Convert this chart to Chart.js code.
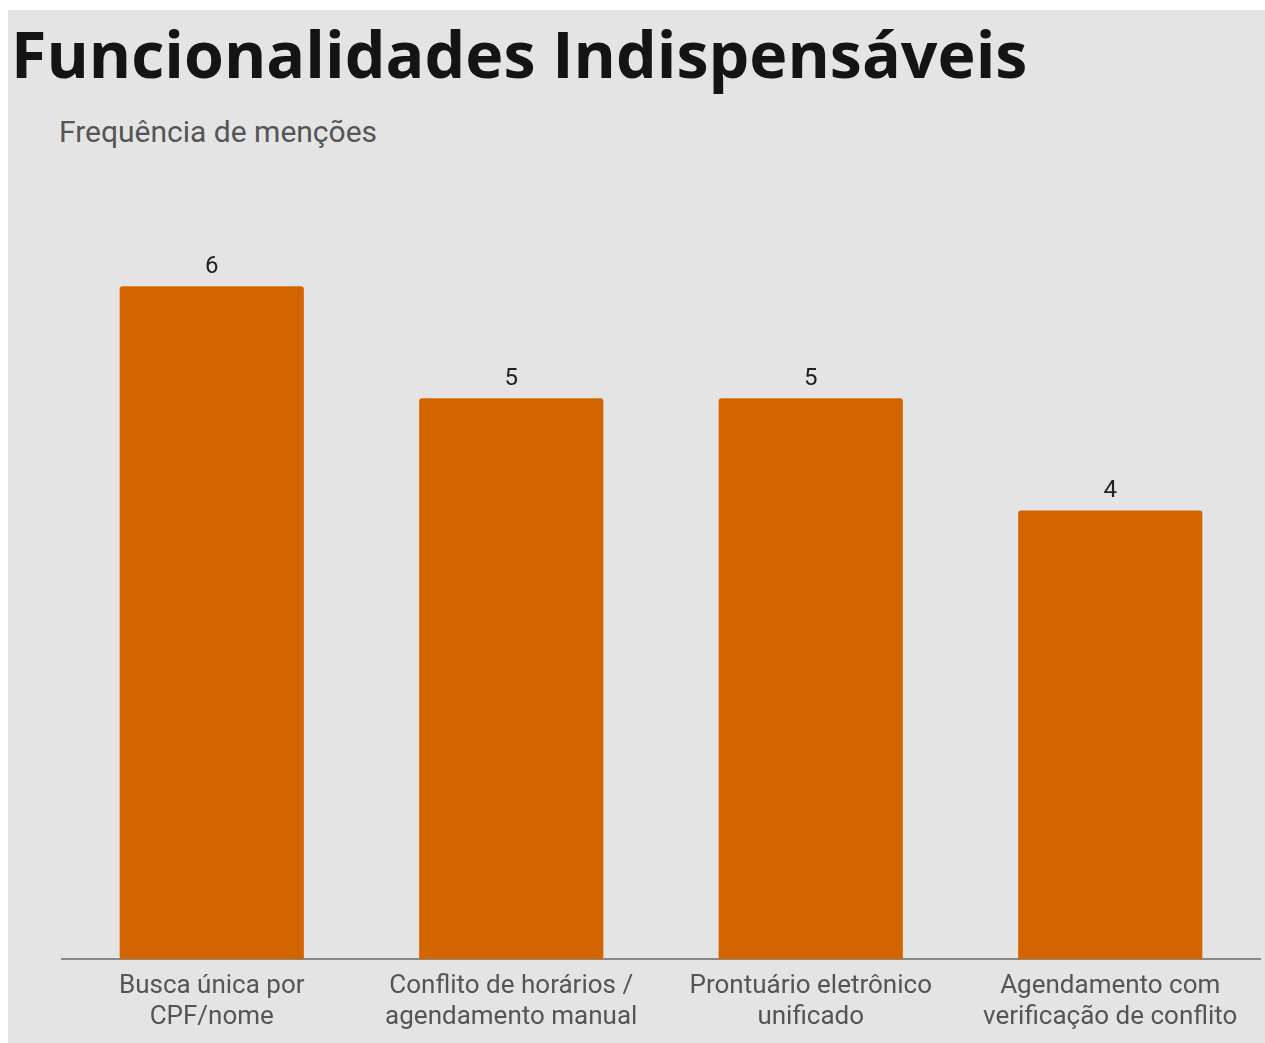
<!DOCTYPE html>
<html>
<head>
<meta charset="utf-8">
<script src="https://cdn.jsdelivr.net/npm/chart.js@4"></script>
<style>
  html, body { margin: 0; padding: 0; background: #ffffff; }
  #panel { position: absolute; left: 8px; top: 10px; width: 1257px; height: 1033px; background: #e4e4e4; }
  #title { position: absolute; left: 3px; top: -1px; margin: 0; font-family: "Open Sans", sans-serif; font-weight: 700; font-size: 64.5px; color: #141414; white-space: nowrap; }
  #subtitle { position: absolute; left: 51px; top: 104px; font-family: Roboto, sans-serif; font-size: 30px; color: #555555; white-space: nowrap; }
  #wrap { position: absolute; left: 0px; top: 155px; width: 1257px; height: 878px; }
</style>
</head>
<body>
<div id="panel">
  <h1 id="title">Funcionalidades Indispensáveis</h1>
  <div id="subtitle">Frequência de menções</div>
  <div id="wrap"><canvas id="c"></canvas></div>
</div>
<script>
const categories = [
  ["Busca única por", "CPF/nome"],
  ["Conflito de horários /", "agendamento manual"],
  ["Prontuário eletrônico", "unificado"],
  ["Agendamento com", "verificação de conflito"]
];
const mentions = [6, 5, 5, 4];

const valueLabels = {
  id: 'valueLabels',
  afterDatasetsDraw(chart) {
    const ctx = chart.ctx;
    const meta = chart.getDatasetMeta(0);
    ctx.save();
    ctx.font = '24px Roboto, sans-serif';
    ctx.fillStyle = '#222222';
    ctx.textAlign = 'center';
    ctx.textBaseline = 'middle';
    meta.data.forEach((bar, i) => {
      ctx.fillText(String(mentions[i]), bar.x, bar.y - 19);
    });
    ctx.restore();
  }
};

new Chart(document.getElementById('c'), {
  type: 'bar',
  data: {
    labels: categories,
    datasets: [{
      data: mentions,
      backgroundColor: '#d36500',
      borderRadius: 3,
      borderSkipped: 'bottom',
      barPercentage: 0.615,
      categoryPercentage: 1.0
    }]
  },
  options: {
    responsive: true,
    maintainAspectRatio: false,
    animation: false,
    layout: { padding: { top: 9, right: 5, bottom: 0, left: 0 } },
    plugins: {
      legend: { display: false },
      tooltip: { enabled: false }
    },
    scales: {
      x: {
        grid: { display: false, drawTicks: false },
        border: { display: true, color: '#888888', width: 2 },
        ticks: {
          color: '#555555',
          font: { family: 'Roboto, sans-serif', size: 26, lineHeight: 1.2 },
          padding: 12,
          maxRotation: 0,
          autoSkip: false
        },
        afterFit(s) { s.height = 84; }
      },
      y: {
        min: 0,
        max: 7,
        grid: { display: false, drawTicks: false },
        border: { display: false },
        ticks: { display: false },
        afterFit(s) { s.width = 54; }
      }
    }
  },
  plugins: [valueLabels]
});
</script>
</body>
</html>
